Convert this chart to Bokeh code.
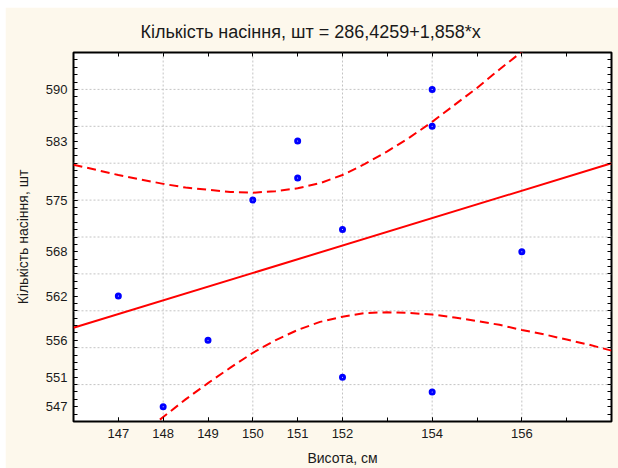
from bokeh.plotting import figure
from bokeh.models import FixedTicker, LinearAxis, Range1d, Span, ColumnDataSource, Grid
from bokeh.embed import file_html
from bokeh.resources import INLINE

# ---- data ----
heights = [147, 148, 149, 150, 151, 151, 152, 152, 154, 154, 154, 156]
seeds = [562, 547, 556, 575, 583, 578, 571, 551, 590, 585, 549, 568]

intercept = 286.4259
slope = 1.858

# 95% confidence band (every half unit of height)
band_x = [146, 146.5, 147, 147.5, 148, 148.5, 149, 149.5, 150, 150.5, 151, 151.5, 152,
          152.5, 153, 153.5, 154, 154.5, 155, 155.5, 156, 156.5, 157, 157.5, 158]
band_upper = [579.8, 579.1, 578.4, 577.8, 577.2, 576.7, 576.4, 576.1, 576.0, 576.2, 576.6, 577.3, 578.4,
              579.9, 581.6, 583.5, 585.6, 587.9, 590.2, 592.7, 595.1, 597.6, 600.2, 602.8, 605.4]
band_lower = [535.6, 538.2, 540.7, 543.2, 545.6, 548.0, 550.2, 552.3, 554.3, 556.0, 557.4, 558.5, 559.2,
              559.7, 559.8, 559.7, 559.5, 559.1, 558.6, 558.1, 557.4, 556.8, 556.1, 555.4, 554.6]

x_tick_values = [147, 148, 149, 150, 151, 152, 154, 156]
y_tick_values = [547, 551, 556, 562, 568, 575, 583, 590]
x_grid_values = [148, 150, 152, 154, 156]
y_grid_values = [550, 555, 560, 565, 570, 575, 580, 585, 590]
x_minor = list(range(146, 159))
y_minor = list(range(545, 596))

title_text = "Кількість насіння, шт = 286,4259+1,858*x"
x_title = "Висота, см"
y_title = "Кількість насіння, шт"

X_RANGE = (146, 158)
Y_RANGE = (545, 595)

FONT = "Liberation Sans"
CREAM = "#FDF8EC"
TEXT = "#1a1a1a"

p = figure(width=613, height=461, output_backend="svg", toolbar_location=None,
           x_range=Range1d(*X_RANGE), y_range=Range1d(*Y_RANGE),
           x_axis_type=None, y_axis_type=None,
           min_border_left=68, min_border_right=7, min_border_top=45, min_border_bottom=44)
p.margin = (7, 0, 0, 5)
p.border_fill_color = CREAM
p.background_fill_color = "white"
p.outline_line_color = "black"
p.outline_line_width = 2
# make sure no automatic grid is present
p.center = [c for c in p.center if not isinstance(c, Grid)]

p.title.text = title_text
p.title.align = "left"
p.title.offset = 67
p.title.text_font = FONT
p.title.text_font_size = "18px"
p.title.text_font_style = "normal"
p.title.text_color = TEXT
p.title.standoff = 22


def make_axis(ticks, minor, label=None, show_labels=True):
    ax = LinearAxis(ticker=FixedTicker(ticks=ticks, minor_ticks=minor))
    ax.axis_line_color = None
    ax.major_tick_in = 4
    ax.major_tick_out = 0
    ax.minor_tick_in = 4
    ax.minor_tick_out = 0
    ax.major_tick_line_color = "black"
    ax.minor_tick_line_color = "black"
    if show_labels:
        ax.major_label_text_font = FONT
        ax.major_label_text_font_size = "13px"
        ax.major_label_text_color = TEXT
    else:
        ax.major_label_text_font_size = "0px"
        ax.major_label_standoff = 0
    if label:
        ax.axis_label = label
        ax.axis_label_text_font = FONT
        ax.axis_label_text_font_size = "14px"
        ax.axis_label_text_font_style = "normal"
        ax.axis_label_text_color = TEXT
    return ax


bottom = make_axis(x_tick_values, x_minor, x_title)
bottom.major_label_standoff = 7
bottom.axis_label_standoff = 9
left = make_axis(y_tick_values, y_minor, y_title)
left.major_label_standoff = 6
left.axis_label_standoff = 12
top = make_axis([], x_minor, show_labels=False)
right = make_axis([], y_minor, show_labels=False)

p.add_layout(bottom, "below")
p.add_layout(left, "left")
p.add_layout(top, "above")
p.add_layout(right, "right")

# dotted grid lines
for gx in x_grid_values:
    p.add_layout(Span(location=gx, dimension="height", line_color="#c4c4c4",
                      line_dash="2 2", line_width=1, level="underlay"))
for gy in y_grid_values:
    p.add_layout(Span(location=gy, dimension="width", line_color="#c4c4c4",
                      line_dash="2 2", line_width=1, level="underlay"))

# confidence bands
p.line(band_x, band_upper, line_color="#FF0000", line_width=2, line_dash="9 5")
p.line(band_x, band_lower, line_color="#FF0000", line_width=2, line_dash="9 5")

# regression line
line_x = [X_RANGE[0], X_RANGE[1]]
line_y = [intercept + slope * v for v in line_x]
p.line(line_x, line_y, line_color="#FF0000", line_width=2)

# points
src = ColumnDataSource(dict(x=heights, y=seeds))
p.scatter("x", "y", source=src, marker="circle", size=4, line_width=3,
          line_color="#0000FF", fill_color="white")

open("out.html", "w").write(file_html(p, INLINE))
